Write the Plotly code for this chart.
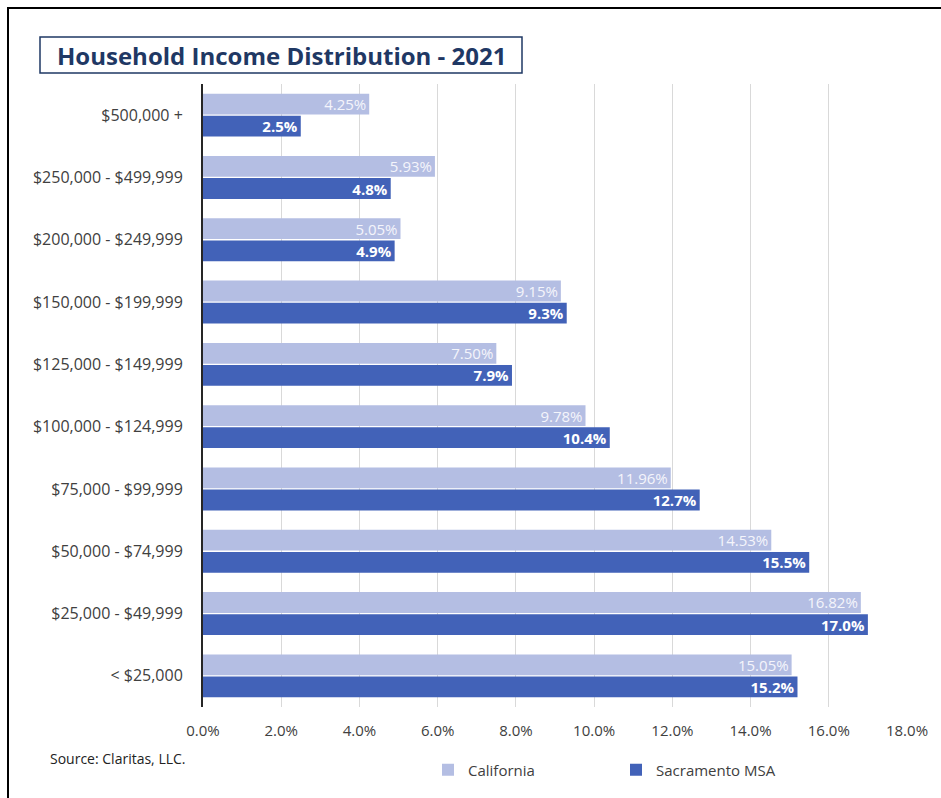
import plotly.graph_objects as go

# Income brackets, listed top to bottom
brackets = [
    "$500,000 +",
    "$250,000 - $499,999",
    "$200,000 - $249,999",
    "$150,000 - $199,999",
    "$125,000 - $149,999",
    "$100,000 - $124,999",
    "$75,000 - $99,999",
    "$50,000 - $74,999",
    "$25,000 - $49,999",
    "< $25,000",
]
california = [4.25, 5.93, 5.05, 9.15, 7.50, 9.78, 11.96, 14.53, 16.82, 15.05]
sacramento = [2.5, 4.8, 4.9, 9.3, 7.9, 10.4, 12.7, 15.5, 17.0, 15.2]
x_ticks = [0, 2, 4, 6, 8, 10, 12, 14, 16, 18]
x_tick_text = [f"{v:.1f}%" for v in x_ticks]

W, H = 941, 798
ML, MR, MT, MB = 203, 34, 84, 91
PW, PH = W - ML - MR, H - MT - MB


def px_x(px):
    return (px - ML) / PW


def px_y(py):
    return (H - MB - py) / PH


FONT = "Open Sans, Noto Sans, sans-serif"
NAVY = "#1F3864"

fig = go.Figure()
fig.add_trace(go.Bar(
    name="California", y=brackets, x=california, orientation="h",
    marker=dict(color="#B4BEE3", line=dict(width=0)),
    texttemplate="%{x:.2f}%", textposition="inside", insidetextanchor="end",
    constraintext="none",
    textfont=dict(color="#F4F5FB", size=15, family=FONT),
    cliponaxis=False,
))
fig.add_trace(go.Bar(
    name="Sacramento MSA", y=brackets, x=sacramento, orientation="h",
    marker=dict(color="#4262B8", line=dict(width=0)),
    texttemplate="<b>%{x:.1f}%</b>", textposition="inside", insidetextanchor="end",
    constraintext="none",
    textfont=dict(color="#FFFFFF", size=15, family=FONT),
    cliponaxis=False,
))

fig.update_layout(
    width=W, height=H,
    margin=dict(l=ML, r=MR, t=MT, b=MB),
    paper_bgcolor="white", plot_bgcolor="white",
    barmode="group", bargap=0.29, bargroupgap=0.06,
    uniformtext=dict(mode=False),
    font=dict(family=FONT, color="#404040", size=15),
    legend=dict(
        orientation="h", x=px_x(428), y=px_y(770), yanchor="middle", xanchor="left",
        entrywidth=143, entrywidthmode="pixels",
        font=dict(size=15, color="#404040", family=FONT),
        bgcolor="rgba(0,0,0,0)",
    ),
    showlegend=True,
)
fig.update_xaxes(
    range=[0, 18], tickvals=x_ticks, ticktext=x_tick_text,
    showgrid=True, gridcolor="#D9D9D9", gridwidth=1,
    zeroline=False, showline=False, ticks="", ticklabelstandoff=13,
    tickfont=dict(size=15, color="#404040"), fixedrange=True,
)
fig.update_yaxes(
    type="category", categoryorder="array", categoryarray=brackets,
    range=[9.5, -0.5], showgrid=False, zeroline=False,
    showline=True, linecolor="#262626", linewidth=2,
    ticks="", ticklabelstandoff=15,
    tickfont=dict(size=16, color="#404040"), fixedrange=True,
)

# outer frame
fig.add_shape(type="rect", xref="paper", yref="paper",
              x0=px_x(8), x1=px_x(960), y0=px_y(820), y1=px_y(8),
              line=dict(color="black", width=2), fillcolor="rgba(0,0,0,0)", layer="above")
# title box
fig.add_shape(type="rect", xref="paper", yref="paper",
              x0=px_x(40), x1=px_x(522), y0=px_y(73), y1=px_y(37),
              line=dict(color=NAVY, width=1.5), fillcolor="rgba(0,0,0,0)")
fig.add_annotation(text="<b>Household Income Distribution - 2021</b>",
                   xref="paper", yref="paper", x=px_x(281), y=px_y(55),
                   xanchor="center", yanchor="middle", showarrow=False,
                   font=dict(size=24, color=NAVY, family=FONT))
fig.add_annotation(text="Source: Claritas, LLC.",
                   xref="paper", yref="paper", x=px_x(48), y=px_y(758),
                   xanchor="left", yanchor="middle", showarrow=False,
                   font=dict(size=14, color="#222222", family=FONT))

fig.write_html("out.html")
